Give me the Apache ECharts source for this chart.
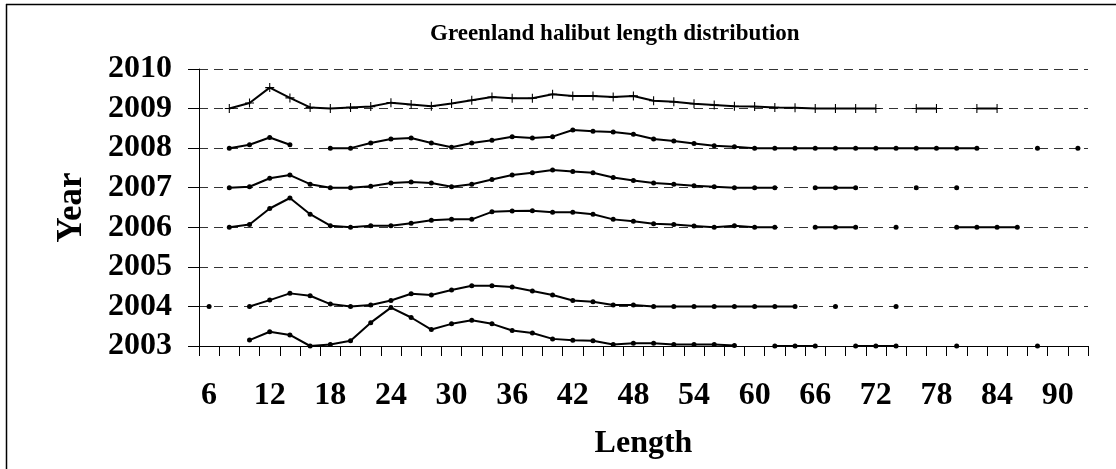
<!DOCTYPE html>
<html>
<head>
<meta charset="utf-8">
<script src="https://cdn.jsdelivr.net/npm/echarts@6/dist/echarts.min.js"></script>
<style>
  html, body { margin: 0; padding: 0; background: #fff; }
  #chart { width: 1116px; height: 469px; }
</style>
</head>
<body>
<div id="chart"></div>
<script>
// Length classes (category axis), 6..92 step 2
const lengths = [6,8,10,12,14,16,18,20,22,24,26,28,30,32,34,36,38,40,42,44,46,48,50,52,54,56,58,60,62,64,66,68,70,72,74,76,78,80,82,84,86,88,90,92];
const years = [2003, 2004, 2005, 2006, 2007, 2008, 2009, 2010];

// Ridge values (year baseline + relative frequency)
const y2009 = [null,2009.00,2009.14,2009.53,2009.27,2009.03,2009.00,2009.03,2009.05,2009.15,2009.10,2009.06,2009.13,2009.21,2009.29,2009.26,2009.26,2009.36,2009.32,2009.32,2009.29,2009.32,2009.20,2009.17,2009.12,2009.09,2009.06,2009.05,2009.03,2009.02,2009.00,2009.00,2009.00,2009.00,null,2009.00,2009.00,null,2009.00,2009.00,null,null,null,null];
const y2008 = [null,2008.00,2008.085,2008.27,2008.085,null,2008.00,2008.00,2008.13,2008.23,2008.255,2008.13,2008.025,2008.13,2008.20,2008.29,2008.255,2008.29,2008.46,2008.43,2008.41,2008.35,2008.23,2008.18,2008.12,2008.06,2008.035,2008.00,2008.00,2008.00,2008.00,2008.00,2008.00,2008.00,2008.00,2008.00,2008.00,2008.00,2008.00,null,null,2008.00,null,2008.00];
const y2007 = [null,2007.00,2007.025,2007.24,2007.32,2007.09,2007.00,2007.00,2007.035,2007.12,2007.145,2007.12,2007.025,2007.09,2007.21,2007.32,2007.38,2007.45,2007.41,2007.38,2007.26,2007.18,2007.12,2007.09,2007.05,2007.025,2007.00,2007.00,2007.00,null,2007.00,2007.00,2007.00,null,null,2007.00,null,2007.00,null,null,null,null,null,null];
const y2006 = [null,2006.00,2006.07,2006.475,2006.74,2006.33,2006.04,2006.00,2006.04,2006.04,2006.10,2006.18,2006.20,2006.20,2006.39,2006.41,2006.415,2006.38,2006.38,2006.33,2006.20,2006.15,2006.09,2006.07,2006.035,2006.00,2006.04,2006.00,2006.00,null,2006.00,2006.00,2006.00,null,2006.00,null,null,2006.00,2006.00,2006.00,2006.00,null,null,null];
const y2004 = [2004.00,null,2004.00,2004.16,2004.33,2004.27,2004.06,2004.00,2004.035,2004.15,2004.32,2004.29,2004.415,2004.52,2004.52,2004.49,2004.39,2004.29,2004.15,2004.12,2004.035,2004.035,2004.00,2004.00,2004.00,2004.00,2004.00,2004.00,2004.00,2004.00,null,2004.00,null,null,2004.00,null,null,null,null,null,null,null,null,null];
const y2003 = [null,null,2003.15,2003.36,2003.28,2003.00,2003.04,2003.13,2003.59,2003.97,2003.72,2003.415,2003.56,2003.65,2003.56,2003.39,2003.33,2003.18,2003.145,2003.13,2003.04,2003.07,2003.07,2003.04,2003.04,2003.04,2003.015,null,2003.00,2003.00,2003.00,null,2003.00,2003.00,2003.00,null,null,2003.00,null,null,null,2003.00,null,null];

const FONT = "'Liberation Serif', 'Times New Roman', serif";
const plus = 'path://M0,4.4h10v1.2h-10z M4.4,0h1.2v10h-1.2z';

function ridge(name, data, cross) {
  return {
    name: name,
    type: 'line',
    data: data,
    connectNulls: false,
    clip: false,
    showSymbol: true,
    showAllSymbol: true,
    symbol: cross ? plus : 'circle',
    symbolSize: cross ? 9 : 5,
    lineStyle: { color: '#000', width: 2 },
    itemStyle: { color: '#000' },
    emphasis: { disabled: true },
    animation: false
  };
}

const chart = echarts.init(document.getElementById('chart'), null, { renderer: 'canvas' });
chart.setOption({
  backgroundColor: '#fff',
  animation: false,
  title: {
    text: 'Greenland halibut length distribution',
    left: 425,
    top: 18,
    textStyle: { fontFamily: FONT, fontWeight: 'bold', fontSize: 23, color: '#000' }
  },
  graphic: [
    { type: 'line', shape: { x1: 6, y1: 4.5, x2: 1116, y2: 4.5 }, style: { stroke: '#000', lineWidth: 1.5 }, silent: true },
    { type: 'line', shape: { x1: 6.5, y1: 4, x2: 6.5, y2: 469 }, style: { stroke: '#000', lineWidth: 1.5 }, silent: true }
  ],
  grid: { left: 199, right: 28, top: 69, bottom: 123, containLabel: false },
  xAxis: {
    type: 'category',
    data: lengths,
    boundaryGap: true,
    name: 'Length',
    nameLocation: 'middle',
    nameGap: 82,
    nameTextStyle: { fontFamily: FONT, fontWeight: 'bold', fontSize: 32, color: '#000' },
    axisLine: { show: true, lineStyle: { color: '#000', width: 1 } },
    axisTick: { show: true, interval: 0, length: 10, inside: false, lineStyle: { color: '#000' } },
    axisLabel: { interval: 2, margin: 34, fontFamily: FONT, fontWeight: 'bold', fontSize: 32, color: '#000' },
    splitLine: { show: false }
  },
  yAxis: {
    type: 'value',
    min: years[0],
    max: years[years.length - 1],
    interval: 1,
    name: 'Year',
    nameLocation: 'middle',
    nameGap: 110,
    nameTextStyle: { fontFamily: FONT, fontWeight: 'bold', fontSize: 35, color: '#000' },
    axisLine: { show: true, lineStyle: { color: '#000', width: 1 } },
    axisTick: { show: true, length: 11, inside: false, lineStyle: { color: '#000' } },
    axisLabel: { margin: 27, fontFamily: FONT, fontWeight: 'bold', fontSize: 32, color: '#000', formatter: function (v) { return String(v); } },
    splitLine: { show: true, lineStyle: { color: '#333', width: 1, type: [9, 6] } }
  },
  series: [
    ridge('2009', y2009, true),
    ridge('2008', y2008, false),
    ridge('2007', y2007, false),
    ridge('2006', y2006, false),
    ridge('2004', y2004, false),
    ridge('2003', y2003, false)
  ]
});
</script>
</body>
</html>
